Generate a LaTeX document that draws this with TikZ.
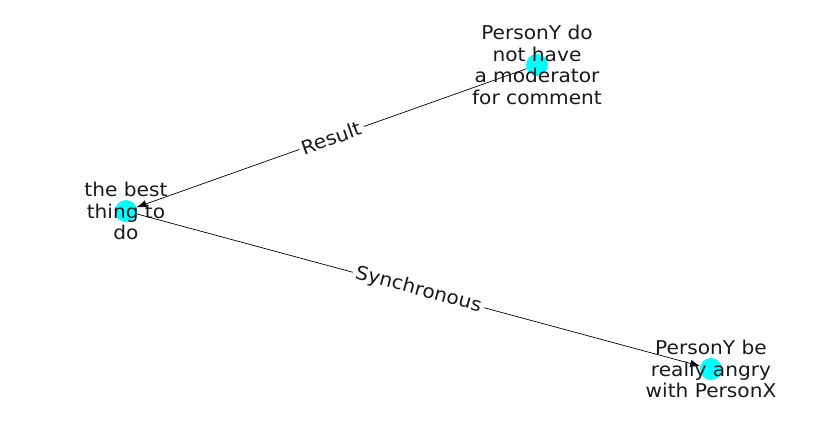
\documentclass[tikz,border=0pt]{standalone}
\usepackage{fontspec}
\setmainfont{DejaVu Sans}
\newfontfamily\lblfont[FakeStretch=1.06]{DejaVu Sans}
\usepackage{tikz}
\usetikzlibrary{arrows.meta}
\definecolor{nodecyan}{RGB}{0,255,255}

\begin{document}
\begin{tikzpicture}[x=1pt,y=-1pt,
    dot/.style={circle,fill=nodecyan,minimum size=22pt,inner sep=0pt},
    txt/.style={align=center,font=\lblfont\fontsize{19}{21.6}\selectfont,text=black!90},
    rel/.style={sloped,fill=white,inner sep=3pt,font=\lblfont\fontsize{19}{20}\selectfont,text=black!90}]
    \useasboundingbox (0,0) rectangle (837,434);
    \node[dot] (moderator) at (537,65) {};
    \node[dot] (best) at (126,211) {};
    \node[dot] (angry) at (711,369) {};
    \draw[-{Latex[length=10pt,width=7.5pt]},line width=0.7pt] (moderator) -- node[rel] {Result} (best);
    \draw[-{Latex[length=10pt,width=7.5pt]},line width=0.7pt] (best) -- node[rel] {Synchronous} (angry);
    \node[txt] at (537,65) {PersonY do\\not have\\a moderator\\for comment};
    \node[txt] at (126,211) {the best\\thing to\\do};
    \node[txt] at (711,369) {PersonY be\\really angry\\with PersonX};
\end{tikzpicture}
\end{document}
